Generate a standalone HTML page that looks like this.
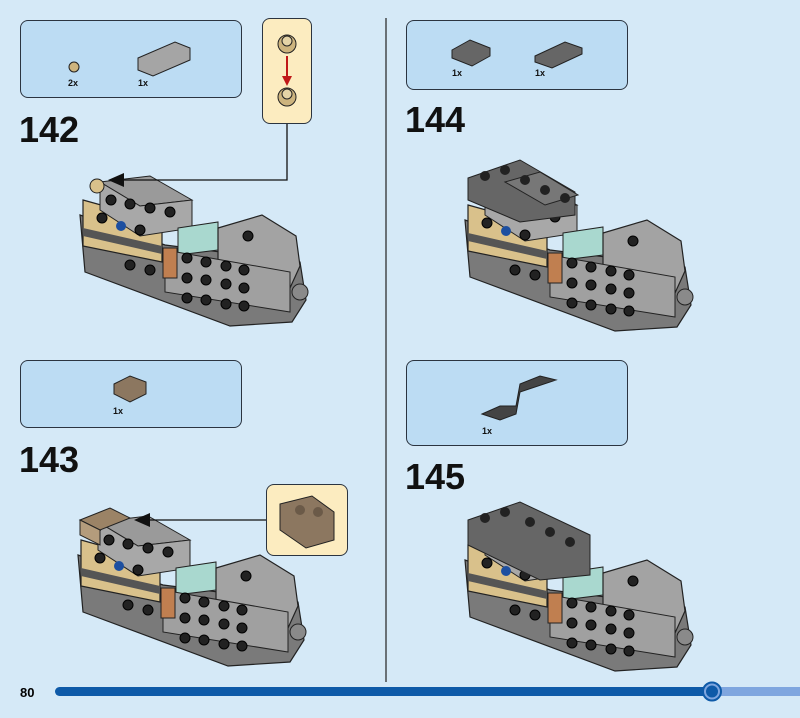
<!DOCTYPE html><html><head><meta charset="utf-8"><style>
body{margin:0;width:800px;height:718px;background:#d5e9f7;position:relative;overflow:hidden;font-family:"Liberation Sans",sans-serif}
.box{position:absolute;background:#bcdcf3;border:1.5px solid #2b3440;border-radius:8px;box-sizing:border-box}
.call{position:absolute;background:#fcecc0;border:1.5px solid #2b3440;border-radius:8px;box-sizing:border-box}
.num{position:absolute;font-weight:bold;font-size:36px;color:#111;letter-spacing:0px}
.q{position:absolute;font-size:9px;font-weight:bold;color:#111}
svg{position:absolute;left:0;top:0}
</style></head><body>
<div class="box" style="left:20px;top:20px;width:222px;height:78px"></div>
<div class="call" style="left:262px;top:18px;width:50px;height:106px"></div>
<div class="box" style="left:406px;top:20px;width:222px;height:70px"></div>
<div class="box" style="left:20px;top:360px;width:222px;height:68px"></div>
<div class="call" style="left:266px;top:484px;width:82px;height:72px"></div>
<div class="box" style="left:406px;top:360px;width:222px;height:86px"></div>
<div class="num" style="left:19px;top:109px">142</div>
<div class="num" style="left:405px;top:99px">144</div>
<div class="num" style="left:19px;top:439px">143</div>
<div class="num" style="left:405px;top:456px">145</div>
<div class="q" style="left:68px;top:78px">2x</div>
<div class="q" style="left:138px;top:78px">1x</div>
<div class="q" style="left:452px;top:68px">1x</div>
<div class="q" style="left:535px;top:68px">1x</div>
<div class="q" style="left:113px;top:406px">1x</div>
<div class="q" style="left:482px;top:426px">1x</div>
<div style="position:absolute;left:20px;top:685px;font-size:13px;font-weight:bold">80</div>
<svg width="800" height="718">
<defs>
<g id="m">
<polygon points="80,215 165,245 300,262 306,300 292,322 230,326 85,272" fill="#7a7a7a" stroke="#222" stroke-width="1.2"/>
<polygon points="83,200 162,222 162,262 83,246" fill="#d9c18b" stroke="#222" stroke-width="1.2"/>
<polygon points="83,228 162,246 162,254 83,236" fill="#555" />
<polygon points="100,182 150,176 192,200 140,206" fill="#9a9a9a" stroke="#222" stroke-width="1"/>
<polygon points="100,182 140,206 192,200 192,228 140,236 100,210" fill="#a8a8a8" stroke="#222" stroke-width="1"/>
<polygon points="178,228 218,222 218,250 178,255" fill="#a9d8cf" stroke="#222" stroke-width="1"/>
<polygon points="218,228 262,215 296,236 300,266 290,288 218,276" fill="#a3a3a3" stroke="#222" stroke-width="1.2"/>
<polygon points="165,250 290,272 290,312 165,292" fill="#a0a0a0" stroke="#222" stroke-width="1"/>
<rect x="163" y="248" width="14" height="30" fill="#c07f50" stroke="#222"/>
<circle cx="300" cy="292" r="8" fill="#8a8a8a" stroke="#222"/>
<circle cx="97" cy="186" r="7" fill="#d9c18b" stroke="#222"/>
<g fill="#222" stroke="#000">
<circle cx="111" cy="200" r="5"/><circle cx="130" cy="204" r="5"/><circle cx="150" cy="208" r="5"/><circle cx="170" cy="212" r="5"/>
<circle cx="102" cy="218" r="5"/><circle cx="140" cy="230" r="5"/>
<circle cx="130" cy="265" r="5"/><circle cx="150" cy="270" r="5"/><circle cx="187" cy="278" r="5"/>
<circle cx="187" cy="258" r="5"/><circle cx="206" cy="262" r="5"/><circle cx="226" cy="266" r="5"/><circle cx="244" cy="270" r="5"/>
<circle cx="187" cy="298" r="5"/><circle cx="206" cy="280" r="5"/><circle cx="226" cy="284" r="5"/><circle cx="244" cy="288" r="5"/>
<circle cx="206" cy="300" r="5"/><circle cx="226" cy="304" r="5"/><circle cx="244" cy="306" r="5"/>
<circle cx="248" cy="236" r="5"/>
</g>
<circle cx="121" cy="226" r="5" fill="#1d4fa0"/>
</g>
</defs>
<line x1="386" y1="18" x2="386" y2="682" stroke="#222" stroke-width="1.2"/>
<use href="#m"/>
<use href="#m" transform="translate(-2,340)"/>
<use href="#m" transform="translate(385,5)"/>
<use href="#m" transform="translate(385,345)"/>
<polygon points="468,178 520,160 575,192 575,215 520,222 468,200" fill="#666" stroke="#222"/>
<polygon points="505,182 540,172 578,195 545,205" fill="#777" stroke="#222"/>
<g fill="#222"><circle cx="485" cy="176" r="5"/><circle cx="505" cy="170" r="5"/><circle cx="525" cy="180" r="5"/><circle cx="545" cy="190" r="5"/><circle cx="565" cy="198" r="5"/></g>
<polygon points="468,520 520,502 590,535 590,575 540,580 468,545" fill="#666" stroke="#222"/>
<g fill="#222"><circle cx="485" cy="518" r="5"/><circle cx="505" cy="512" r="5"/><circle cx="530" cy="522" r="5"/><circle cx="550" cy="532" r="5"/><circle cx="570" cy="542" r="5"/></g>
<polygon points="80,520 110,508 130,518 100,530" fill="#9b8366" stroke="#222"/>
<polygon points="80,520 100,530 100,545 80,535" fill="#b49c7c" stroke="#222"/>
<polyline points="287,124 287,180 122,180" fill="none" stroke="#111" stroke-width="1.3"/>
<polygon points="108,180 124,173 124,187" fill="#111"/>
<line x1="266" y1="520" x2="148" y2="520" stroke="#111" stroke-width="1.3"/>
<polygon points="134,520 150,513 150,527" fill="#111"/>
<circle cx="287" cy="44" r="9" fill="#cdb47e" stroke="#222"/><circle cx="287" cy="41" r="5" fill="#e4d3a6" stroke="#222"/>
<circle cx="287" cy="97" r="9" fill="#cdb47e" stroke="#222"/><circle cx="287" cy="94" r="5" fill="#e4d3a6" stroke="#222"/>
<line x1="287" y1="56" x2="287" y2="78" stroke="#c01818" stroke-width="2"/>
<polygon points="282,76 292,76 287,86" fill="#c01818"/>
<polygon points="280,504 312,496 334,512 334,540 306,548 280,530" fill="#8c7760" stroke="#222"/>
<circle cx="300" cy="510" r="5" fill="#6b5a48"/><circle cx="318" cy="512" r="5" fill="#6b5a48"/>
<circle cx="74" cy="67" r="5" fill="#cdb47e" stroke="#222"/>
<polygon points="138,58 175,42 190,48 190,60 153,76 138,70" fill="#a5a5a5" stroke="#222"/>
<polygon points="452,50 470,40 490,48 490,56 472,66 452,58" fill="#666" stroke="#222"/>
<polygon points="535,56 565,42 582,48 582,54 552,68 535,62" fill="#666" stroke="#222"/>
<polygon points="114,384 130,376 146,382 146,394 130,402 114,394" fill="#8c7760" stroke="#222"/>
<polygon points="482,414 500,406 516,406 520,384 540,376 556,380 520,392 516,414 500,420" fill="#444" stroke="#222"/>
<rect x="55" y="687" width="657" height="9" rx="4.5" fill="#0e5aa8"/>
<rect x="712" y="687" width="88" height="9" fill="#7fa6df"/>
<circle cx="712" cy="691.5" r="9" fill="#7fa6df" stroke="#0e5aa8" stroke-width="2"/>
<circle cx="712" cy="691.5" r="6" fill="#0e5aa8"/>
</svg>
</body></html>
